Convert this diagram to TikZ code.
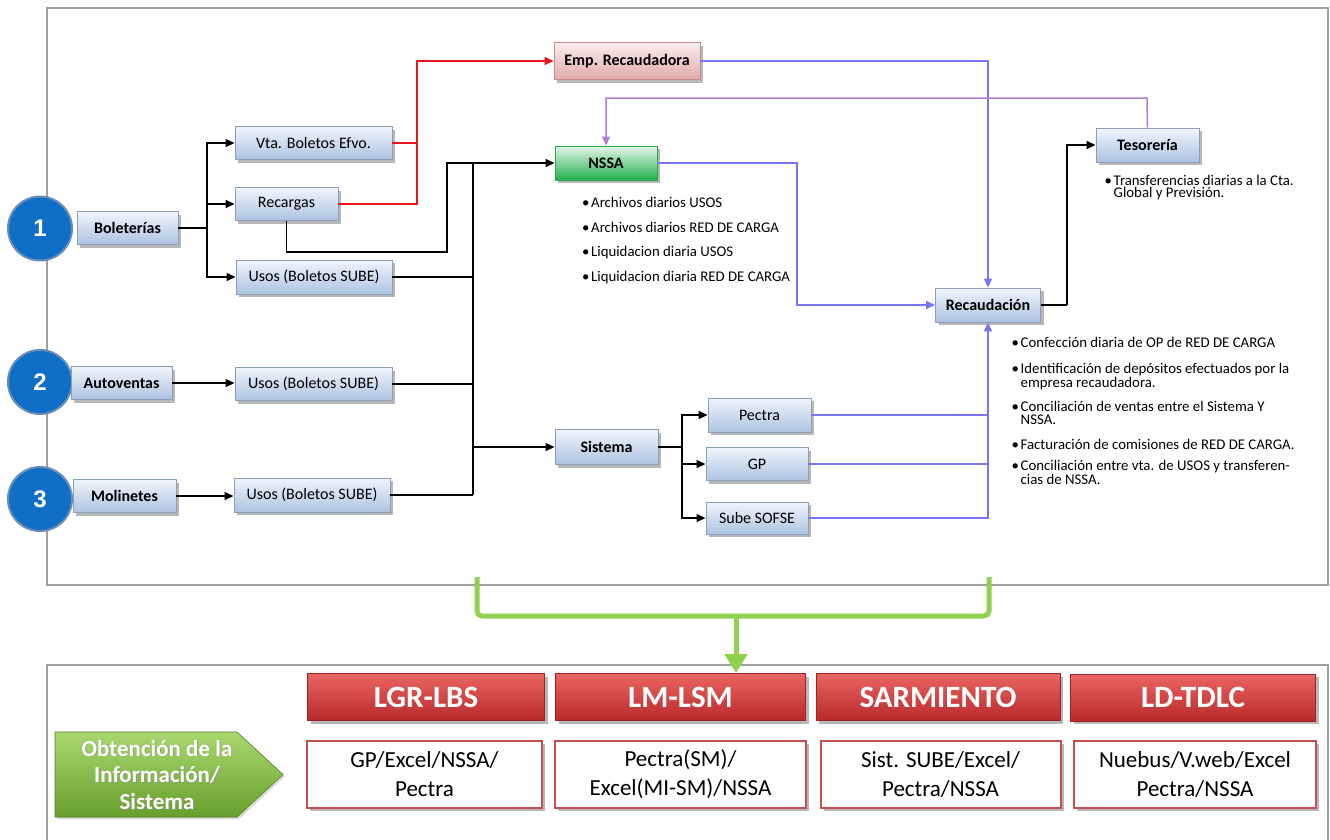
\documentclass[tikz,border=0pt]{standalone}
\usepackage{fontspec}
\setmainfont{Carlito}
\newfontfamily\numfont{Liberation Sans}
\usetikzlibrary{arrows.meta,shadows}
\definecolor{bxtop}{HTML}{F0F5FB}
\definecolor{bxbot}{HTML}{ADC3E2}
\definecolor{bxdraw}{HTML}{8C9FBA}
\definecolor{gntop}{HTML}{E6F7E8}
\definecolor{gnbot}{HTML}{1FAF4E}
\definecolor{gndraw}{HTML}{2DA84A}
\definecolor{pktop}{HTML}{FBEDED}
\definecolor{pkbot}{HTML}{E2A9A9}
\definecolor{pkdraw}{HTML}{C98A8A}
\definecolor{linblue}{HTML}{7575F5}
\definecolor{linpur}{HTML}{B47CCF}
\definecolor{linred}{HTML}{E8141B}
\definecolor{grn}{HTML}{92D050}
\definecolor{framec}{HTML}{A0A0A0}
\definecolor{circ}{HTML}{0F6EC6}
\definecolor{circring}{HTML}{6A8DB8}
\definecolor{hdtop}{HTML}{EA6563}
\definecolor{hdbot}{HTML}{B9292A}
\definecolor{hddraw}{HTML}{9E2424}
\definecolor{wbdraw}{HTML}{C4504E}
\definecolor{artop}{HTML}{A9D86E}
\definecolor{arbot}{HTML}{679F2B}
\newcommand\bu{\makebox[9pt][l]{\textbullet}}
\newcommand\ind{\hspace*{9pt}}
\tikzset{
  shad/.style={drop shadow={shadow xshift=3pt,shadow yshift=-3pt,opacity=0.35,fill=black!80}},
  box/.style={rectangle,draw=bxdraw,line width=0.9pt,top color=bxtop,bottom color=bxbot,inner sep=0pt,shad,font=\fontsize{16}{18}\selectfont},
  bbox/.style={box,font=\fontsize{16}{18}\selectfont\bfseries},
  gbox/.style={bbox,draw=gndraw,top color=gntop,bottom color=gnbot},
  pbox/.style={bbox,draw=pkdraw,top color=pktop,bottom color=pkbot},
  num/.style={circle,fill=circ,draw=circring,line width=2pt,minimum size=64pt,inner sep=0pt,text=white,font=\numfont\fontsize{24}{26}\selectfont\bfseries},
  blk/.style={draw=black,line width=1.4pt},
  blka/.style={blk,-{Triangle[length=9pt,width=8pt]}},
  blu/.style={draw=linblue,line width=1.5pt},
  blua/.style={blu,-{Triangle[length=9pt,width=8pt]}},
  reda/.style={draw=linred,line width=1.4pt},
  purp/.style={draw=linpur,line width=1.5pt},
  lst/.style={inner sep=0pt,anchor=base west,align=left,font=\fontsize{14.8}{12.5}\selectfont},
  hdr/.style={rectangle,draw=hddraw,line width=0.8pt,top color=hdtop,bottom color=hdbot,inner sep=0pt,shad,minimum height=47pt,text=white,font=\fontsize{31}{33}\selectfont\bfseries},
  wbx/.style={rectangle,draw=wbdraw,line width=2pt,fill=white,inner sep=0pt,shad,minimum height=67pt,align=center,font=\fontsize{23}{29}\selectfont},
  frm/.style={draw=framec,line width=1.5pt}
}
\begin{document}
\begin{tikzpicture}[x=1pt,y=-1pt]
\useasboundingbox (0,0) rectangle (1330,839);
\fill[white] (0,0) rectangle (1330,839);
% frames
\draw[frm] (47,8) rectangle (1328,585);
\draw[frm] (47,845) -- (47,665) -- (1328,665) -- (1328,845);

% circles
\node[num] (c1) at (40,228.5) {1};
\node[num] (c2) at (40,382) {2};
\node[num] (c3) at (40,499) {3};

% left boxes
\node[bbox,minimum width=101pt,minimum height=33pt] (bol) at (127.5,228) {Boleterías};
\node[bbox,minimum width=101pt,minimum height=33pt] (aut) at (121.5,383) {Autoventas};
\node[bbox,minimum width=103pt,minimum height=33pt] (mol) at (124.5,496) {Molinetes};

\node[box,minimum width=157pt,minimum height=33pt] (vta) at (313.5,143) {Vta. Boletos Efvo.};
\node[box,minimum width=103pt,minimum height=33pt] (rec) at (286.5,204) {Recargas};
\node[box,minimum width=156pt,minimum height=34pt] (u1) at (314,277) {Usos (Boletos SUBE)};
\node[box,minimum width=157pt,minimum height=33pt] (u2) at (313.5,384) {Usos (Boletos SUBE)};
\node[box,minimum width=156pt,minimum height=34pt] (u3) at (312,495) {Usos (Boletos SUBE)};

% middle
\node[pbox,minimum width=146pt,minimum height=37pt] (emp) at (627,61) {Emp. Recaudadora};
\node[gbox,minimum width=102pt,minimum height=34pt] (nssa) at (606,163) {NSSA};
\node[bbox,minimum width=103pt,minimum height=35pt] (sis) at (606.5,447) {Sistema};
\node[box,minimum width=103pt,minimum height=34pt] (pec) at (759.5,415) {Pectra};
\node[box,minimum width=102pt,minimum height=33pt] (gp) at (757,464) {GP};
\node[box,minimum width=102pt,minimum height=32pt] (sube) at (757,518) {Sube SOFSE};
\node[bbox,minimum width=105pt,minimum height=34pt] (reca) at (988,305) {Recaudación};
\node[bbox,minimum width=103pt,minimum height=34pt] (tes) at (1147.5,145) {Tesorería};

% junction coordinates
\coordinate (jb) at (207,228);
\coordinate (jr) at (417,204);
\coordinate (jrb) at (447,252);
\coordinate (tt) at (473,163);
\coordinate (tb) at (473,495);
\coordinate (js) at (682,447);
\coordinate (jn) at (797,163);
\coordinate (jt) at (1067,305);
\coordinate (jp) at (1147,98);

% black connectors
\draw[blk] (bol.east) -- (jb);
\draw[blka] (jb) |- (vta.west);
\draw[blka] (jb) |- (rec.west);
\draw[blka] (jb) |- (u1.west);
\draw[blka] (aut.east) -- (aut.east -| u2.west);
\draw[blka] (mol.east) -- (mol.east -| u3.west);
\draw[draw=black,line width=1.1pt] (rec.south) |- (jrb) |- (tt);
\draw[blk] (tt) -- (tb);
\draw[blk] (u1.east) -- (u1.east -| tt);
\draw[blk] (u2.east) -- (u2.east -| tt);
\draw[blk] (u3.east) -- (u3.east -| tt);
\draw[blka] (tt) -- (nssa.west);
\draw[blka] (sis.west -| tt) -- (sis.west);
\draw[blk] (sis.east) -- (js);
\draw[blka] (js) |- (pec.west);
\draw[blka] (js) |- (gp.west);
\draw[blka] (js) |- (sube.west);
\draw[blk] (reca.east) -- (jt);
\draw[blka] (jt) |- (tes.west);

% red
\draw[reda] (vta.east) -| (jr);
\draw[reda,-{Triangle[length=9pt,width=8pt]}] (rec.east) -- (jr) |- (emp.west);

% blue
\draw[blua] (emp.east) -| (reca.north);
\draw[blua] (nssa.east) -- (jn) |- (reca.west);
\draw[blu] (pec.east) -- (pec.east -| reca.south);
\draw[blu] (gp.east) -- (gp.east -| reca.south);
\draw[blua] (sube.east) -| (reca.south);

% purple
\draw[purp,-{Triangle[length=9pt,width=8pt]}] (tes.north) -- (jp) -| (nssa.north);

% lists (base = baseline of last line)
\node[lst] (l1) at (582,207.5) {\bu Archivos diarios USOS};
\node[lst] (l2) at (582,232.5) {\bu Archivos diarios RED DE CARGA};
\node[lst] (l3) at (582,256.5) {\bu Liquidacion diaria USOS};
\node[lst] (l4) at (582,281.5) {\bu Liquidacion diaria RED DE CARGA};

\node[lst] (t1) at (1104.5,197.5) {\bu Transferencias diarias a la Cta.\\\ind Global y Previsión.};

\node[lst] (r1) at (1011.5,347.5) {\bu Confección diaria de OP de RED DE CARGA};
\node[lst] (r2) at (1011.5,387) {\bu Identificación de depósitos efectuados por la\\\ind empresa recaudadora.};
\node[lst] (r3) at (1011.5,424) {\bu Conciliación de ventas entre el Sistema Y\\\ind NSSA.};
\node[lst] (r4) at (1011.5,449.5) {\bu Facturación de comisiones de RED DE CARGA.};
\node[lst] (r5) at (1011.5,484) {\bu Conciliación entre vta. de USOS y transferen-\\\ind cias de NSSA.};

% green bracket
\coordinate (gl) at (477,577);
\coordinate (gr) at (989,577);
\coordinate (gc) at (736,616);
\draw[grn,line width=5pt,rounded corners=5pt] (gl) -- (gl |- gc) -- (gr |- gc) -- (gr);

% bottom headers
\node[hdr,minimum width=237pt] (h1) at (426,697) {LGR-LBS};
\node[hdr,minimum width=250pt] (h2) at (680.5,697) {LM-LSM};
\node[hdr,minimum width=244pt] (h3) at (938,697) {SARMIENTO};
\node[hdr,minimum width=245pt] (h4) at (1193,697.5) {LD-TDLC};

\draw[grn,line width=5pt,-{Triangle[length=19pt,width=22pt]}] (gc) -- (h2.north -| gc);

\node[wbx,minimum width=235pt] (w1) at (424.5,774.5) {GP/Excel/NSSA/\\Pectra};
\node[wbx,minimum width=251pt] (w2) at (680.5,774.5) {Pectra(SM)/\\Excel(MI-SM)/NSSA};
\node[wbx,minimum width=240pt] (w3) at (940.5,774.5) {Sist. SUBE/Excel/\\Pectra/NSSA};
\node[wbx,minimum width=242pt] (w4) at (1195,774.5) {Nuebus/V.web/Excel\\Pectra/NSSA};

% green arrow label
\shade[top color=artop,bottom color=arbot,draw=arbot!80!black,line width=0.6pt,drop shadow={shadow xshift=2pt,shadow yshift=-2pt,opacity=0.3}]
  (55,732) -- (237,732) -- (283,774.5) -- (237,817) -- (55,817) -- cycle;
\node[align=center,text=black!45,opacity=0.6,inner sep=0pt,font=\fontsize{23}{27}\selectfont\bfseries] (obts) at (158,776) {Obtención de la\\Información/\\Sistema};
\node[align=center,text=white,inner sep=0pt,font=\fontsize{23}{27}\selectfont\bfseries] (obt) at (157,775) {Obtención de la\\Información/\\Sistema};
\end{tikzpicture}
\end{document}
